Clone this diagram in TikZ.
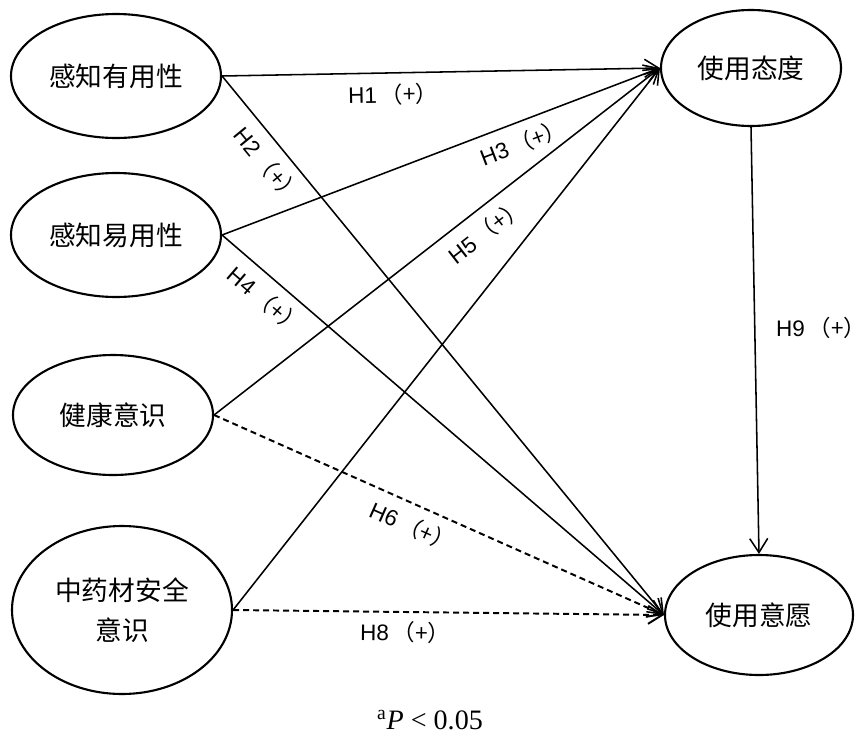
\documentclass[tikz,border=0pt]{standalone}
\usepackage{fontspec}
\setmainfont{Liberation Sans}
\newfontfamily\cjk{Noto Sans CJK SC}
\newfontfamily\serif{Liberation Serif}
\usepackage{tikz}
\usetikzlibrary{shapes.geometric, arrows.meta}

\newcommand{\hlab}[1]{H#1\,{\cjk （+）}}

\begin{document}
\begin{tikzpicture}[x=0.25mm, y=-0.25mm,
    >={Straight Barb[length=3.5mm, width=4.5mm]},
    var/.style={draw, ellipse, line width=1.5pt, align=center,
        font=\cjk\fontsize{19}{28}\selectfont},
    link/.style={->, line width=1.1pt},
    weak/.style={link, line width=1.4pt, dash pattern=on 1.5mm off 1mm},
    lab/.style={font=\fontsize{16}{19}\selectfont},
    slab/.style={lab, sloped}]
    \useasboundingbox (0, 0) rectangle (865, 747);

    \node[var, minimum width=52.5mm, minimum height=31mm] at (116, 76) (pu) {感知有用性};
    \node[var, minimum width=52.5mm, minimum height=31mm] at (116, 235) (peou) {感知易用性};
    \node[var, minimum width=50mm, minimum height=30mm] at (113, 415) (hc) {健康意识};
    \node[var, minimum width=55mm, minimum height=42mm] at (122, 610) (sc) {中药材安全\\意识};

    \node[var, minimum width=45mm, minimum height=29mm] at (751, 68) (att) {使用态度};
    \node[var, minimum width=47mm, minimum height=30mm] at (759, 615) (bi) {使用意愿};

    \draw[link] (pu.east) -- node[slab, below=1.3mm, pos=0.39] (h1) {\hlab{1}} (att.west);
    \draw[link] (pu.east) -- node[slab, below=1.3mm, pos=0.14] (h2) {\hlab{2}} (bi.west);
    \draw[link] (peou.east) -- node[slab, below=1.2mm, pos=0.67] (h3) {\hlab{3}} (att.west);
    \draw[link] (peou.east) -- node[slab, below=1.3mm, pos=0.13] (h4) {\hlab{4}} (bi.west);
    \draw[link] (hc.east) -- node[slab, below=1.5mm, pos=0.58] (h5) {\hlab{5}} (att.west);
    \draw[weak] (hc.east) -- node[slab, below=1.3mm, pos=0.46] (h6) {\hlab{6}} (bi.west);
    \draw[link] (sc.east) -- (att.west);
    \draw[weak] (sc.east) -- node[slab, below=1mm, pos=0.4] (h8) {\hlab{8}} (bi.west);
    \draw[link] (att.south) -- node[lab, right=4mm, pos=0.47] (h9) {\hlab{9}} (bi.north);

    \node at (430, 720) (note) {\serif\fontsize{20}{24}\selectfont\textsuperscript{a}\textit{P} < 0.05};
\end{tikzpicture}
\end{document}
